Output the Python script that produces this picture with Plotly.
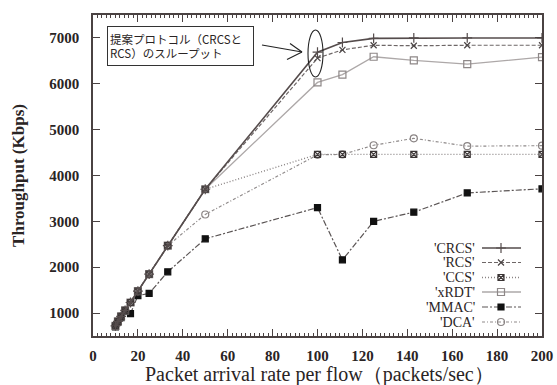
import plotly.graph_objects as go

# Packet arrival rate per flow (packets/sec)
rate = [10, 11.1, 12.5, 14.3, 16.7, 20, 25, 33.3, 50, 100, 111.1, 125, 142.9, 166.7, 200]

# Throughput (Kbps) per protocol
crcs = [720, 820, 930, 1060, 1230, 1480, 1850, 2470, 3700, 6690, 6900, 6990, 7000, 7000, 7000]
rcs = [720, 820, 930, 1060, 1230, 1480, 1850, 2470, 3700, 6560, 6740, 6840, 6830, 6840, 6840]
ccs = [720, 820, 930, 1060, 1230, 1480, 1850, 2470, 3700, 4460, 4460, 4460, 4460, 4460, 4460]
xrdt = [720, 820, 930, 1060, 1230, 1480, 1850, 2470, 3700, 6030, 6200, 6590, 6510, 6430, 6580]
mmac = [700, 800, 900, 1040, 990, 1380, 1430, 1900, 2620, 3300, 2160, 3000, 3200, 3620, 3710]
dca = [720, 820, 930, 1060, 1230, 1480, 1850, 2470, 3150, 4450, 4460, 4660, 4810, 4640, 4650]

x_ticks = [0, 20, 40, 60, 80, 100, 120, 140, 160, 180, 200]
y_ticks = [1000, 2000, 3000, 4000, 5000, 6000, 7000]

labels = ["'CRCS'", "'RCS'", "'CCS'", "'xRDT'", "'MMAC'", "'DCA'"]
series = [crcs, rcs, ccs, xrdt, mmac, dca]

styles = [
    dict(color="#554c4c", dash="solid", width=1.6, symbol="cross-thin-open", msize=7, mcolor="#554c4c"),
    dict(color="#6e6767", dash="4px,2px", width=1.2, symbol="x-thin-open", msize=6, mcolor="#4a4444"),
    dict(color="#8a8484", dash="1px,2px", width=1.4, symbol="square-x-open", msize=6, mcolor="#3a3434"),
    dict(color="#ada8a8", dash="solid", width=1.3, symbol="square-open", msize=7, mcolor="#8e8888"),
    dict(color="#5a5454", dash="6px,2px,2px,2px", width=1.2, symbol="square", msize=6, mcolor="#111111"),
    dict(color="#8f8a8a", dash="3px,2px,1px,2px", width=1.2, symbol="circle-open", msize=7, mcolor="#8a8484"),
]

FRAME = "#4a4242"
TEXT = "#2a2424"
SERIF = "Liberation Serif"

fig = go.Figure()

# draw in reverse so the top curves sit above the others
for name, vals, st in reversed(list(zip(labels, series, styles))):
    fig.add_trace(go.Scatter(
        x=rate, y=vals, name=name, mode="lines+markers",
        line=dict(color=st["color"], dash=st["dash"], width=st["width"]),
        marker=dict(symbol=st["symbol"], size=st["msize"], color=st["mcolor"],
                    line=dict(color=st["mcolor"], width=1.2)),
        showlegend=False,
    ))

# plot area in pixels
L, R, T, B = 93, 542, 15, 336
W, H = 557, 385


def px(xp, yp):
    return (xp - L) / (R - L), (B - yp) / (B - T)


# gnuplot-style key: label on the left, sample line with marker on the right
key_rows = [248, 262.5, 277.5, 292, 307, 322]
for name, st, yrow in zip(labels, styles, key_rows):
    x_txt, y_row = px(477, yrow)
    x0, _ = px(482, yrow)
    x1, _ = px(521, yrow)
    xm, _ = px(501, yrow)
    fig.add_annotation(x=x_txt, y=y_row, xref="paper", yref="paper", text=name,
                       showarrow=False, xanchor="right", yanchor="middle",
                       font=dict(family=SERIF, size=14, color=TEXT))
    fig.add_trace(go.Scatter(
        x=[x0, x1], y=[y_row, y_row], xaxis="x2", yaxis="y2", mode="lines",
        line=dict(color=st["color"], dash=st["dash"], width=st["width"]),
        showlegend=False, hoverinfo="skip"))
    fig.add_trace(go.Scatter(
        x=[xm], y=[y_row], xaxis="x2", yaxis="y2", mode="markers",
        marker=dict(symbol=st["symbol"], size=st["msize"], color=st["mcolor"],
                    line=dict(color=st["mcolor"], width=1.2)),
        showlegend=False, hoverinfo="skip"))

# callout box
bx, by = px(107, 26)
fig.add_annotation(x=bx, y=by, xref="paper", yref="paper",
                   text="提案プロトコル（CRCSと<br>RCS）のスループット",
                   showarrow=False, xanchor="left", yanchor="top", align="left",
                   width=141, height=34, borderpad=2,
                   bordercolor="#333", borderwidth=1, bgcolor="white",
                   font=dict(family="Noto Sans CJK JP", size=11.5, color=TEXT))

# x-axis title, placed below the tick labels
tx, ty = px(319, 374)
fig.add_annotation(x=tx, y=ty, xref="paper", yref="paper",
                   text="Packet arrival rate per flow（packets/sec）",
                   showarrow=False, xanchor="center", yanchor="middle",
                   font=dict(family=SERIF, size=20, color=TEXT))

# arrow: shaft and open head
shapes = []
for (xa, ya), (xb, yb) in [((262, 45), (302, 52)), ((290, 43.5), (302, 52)), ((287, 59.5), (302, 52))]:
    p0, p1 = px(xa, ya), px(xb, yb)
    shapes.append(dict(type="line", xref="paper", yref="paper",
                       x0=p0[0], y0=p0[1], x1=p1[0], y1=p1[1],
                       line=dict(color="#222", width=1.1)))
# ellipse around CRCS / RCS at 100 packets/sec
e0, e1 = px(308, 77), px(323, 30)
shapes.append(dict(type="circle", xref="paper", yref="paper",
                   x0=e0[0], y0=e0[1], x1=e1[0], y1=e1[1],
                   line=dict(color="#222", width=1.1)))

tick_font = dict(family=SERIF, size=15, color=TEXT, weight="bold")

fig.update_layout(
    width=W, height=H,
    margin=dict(l=L, r=W - R, t=T, b=H - B),
    paper_bgcolor="white", plot_bgcolor="white",
    shapes=shapes,
    showlegend=False,
    xaxis=dict(range=[0, 200], tickvals=x_ticks, ticks="inside", ticklen=7,
               tickcolor=FRAME, tickwidth=1, showline=True, linecolor=FRAME, linewidth=1.5,
               mirror="ticks", showgrid=False, zeroline=False, automargin=False,
               minor=dict(dtick=2, ticks="inside", ticklen=3, tickcolor=FRAME, showgrid=False),
               tickfont=tick_font, ticklabelstandoff=5),
    yaxis=dict(range=[500, 7500], tickvals=y_ticks, ticks="inside", ticklen=7,
               tickcolor=FRAME, tickwidth=1, showline=True, linecolor=FRAME, linewidth=1.5,
               mirror="ticks", showgrid=False, zeroline=False, automargin=False,
               tickfont=tick_font, ticklabelstandoff=9,
               title=dict(text="Throughput (Kbps)",
                          font=dict(family=SERIF, size=17, color=TEXT, weight="bold"), standoff=20)),
    xaxis2=dict(range=[0, 1], overlaying="x", visible=False, fixedrange=True),
    yaxis2=dict(range=[0, 1], overlaying="y", visible=False, fixedrange=True),
)

fig.write_html("out.html")
